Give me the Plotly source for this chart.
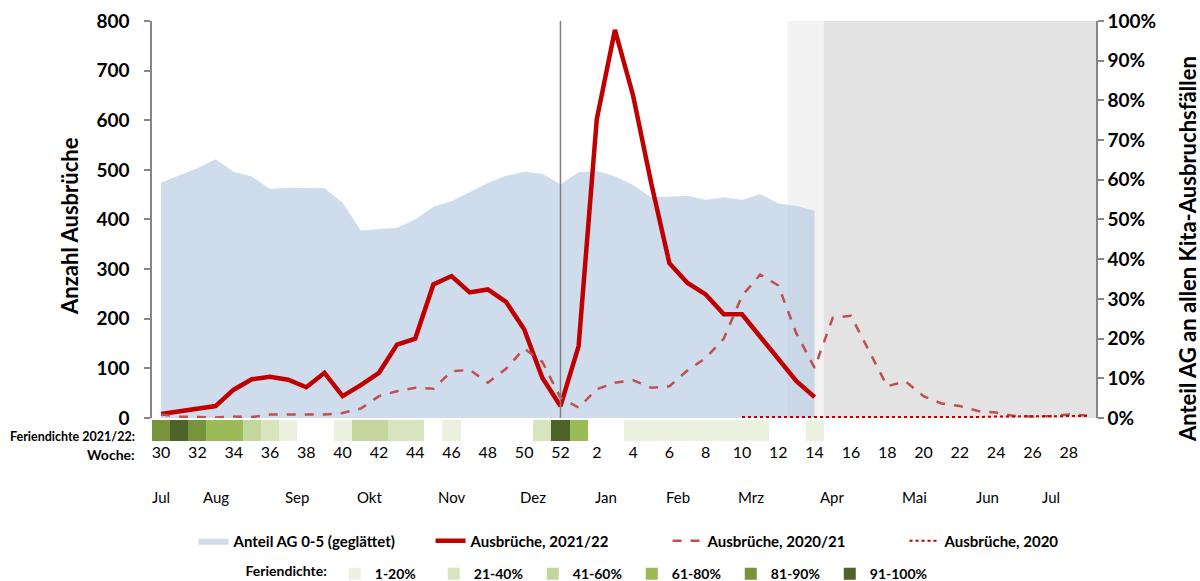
import plotly.graph_objects as go

# ---------------- data ----------------
weeks = list(range(30, 53)) + list(range(1, 30))          # KW 30/2021 .. KW 29/2022
tick_weeks = list(range(30, 53, 2)) + list(range(2, 30, 2))

# Anteil AG 0-5 (geglättet), %, KW 30 .. KW 14
share_ag05 = [59.3, 61.0, 62.9, 65.2, 62.0, 60.8, 57.7, 58.0, 58.0, 57.9, 54.2, 47.2,
              47.6, 47.9, 50.0, 53.2, 54.6, 57.0, 59.2, 61.0, 62.0, 61.5, 58.9,
              61.9, 62.2, 60.9, 58.7, 55.6, 55.7, 56.0, 54.9, 55.6, 54.9, 56.4, 54.0, 53.4, 52.2]

# Ausbrüche 2021/22, KW 30 .. KW 14
outbreaks_2122 = [8, 13, 19, 24, 57, 78, 83, 77, 62, 91, 44, 66, 91, 148, 160, 269, 286, 253,
                  259, 234, 179, 81, 24,
                  145, 602, 782, 650, 473, 312, 272, 249, 209, 209, 163, 118, 74, 42]

# Ausbrüche 2020/21, KW 30 .. KW 29
outbreaks_2021 = [7, 3, 2, 1, 3, 2, 7, 7, 7, 7, 10, 19, 44, 54, 61, 59, 94, 97, 71, 99, 140, 113, 41,
                  21, 58, 71, 76, 61, 64, 96, 121, 160, 246, 289, 267, 170, 101,
                  202, 206, 136, 64, 74, 44, 29, 24, 14, 11, 4, 3, 4, 7, 5]

# Ausbrüche 2020, KW 10 .. KW 29
weeks_2020 = list(range(10, 30))
outbreaks_2020 = [2, 2, 2, 2, 2, 2, 1, 1, 2, 1, 1, 1, 2, 2, 3, 3, 3, 3, 4, 4]

# Feriendichte class per week (0 = none, 1..6 = classes below), KW 30 .. KW 29
holiday_class = [5, 6, 5, 4, 4, 3, 2, 1, 0, 0, 1, 3, 3, 2, 2, 0, 1, 0, 0, 0, 0, 2, 6,
                 4, 0, 0, 1, 1, 1, 1, 1, 1, 1, 1, 0, 0, 1,
                 0, 0, 0, 0, 0, 0, 0, 0, 0, 0, 0, 0, 0, 0, 0]
holiday_labels = ["1-20%", "21-40%", "41-60%", "61-80%", "81-90%", "91-100%"]
holiday_colors = ["#ebf1de", "#d7e4bd", "#c3d69b", "#9bbb59", "#77933c", "#4f6228"]

months = ["Jul", "Aug", "Sep", "Okt", "Nov", "Dez", "Jan", "Feb", "Mrz", "Apr", "Mai", "Jun", "Jul"]
month_pos = [0, 3, 7.5, 11.5, 16, 20.5, 24.5, 28.5, 32.5, 37, 41.5, 45.5, 49]  # in week-slot units

year_break_week = 52
light_shade_weeks = (12.5, 14.5)   # KW range, lighter grey
dark_shade_from_week = 14.5        # darker grey to end

# ---------------- helpers ----------------
idx = list(range(len(weeks)))
def pos(w):
    base = int(w)
    frac = w - base
    return weeks.index(base) + frac

FONT = "Lato, Roboto, Liberation Sans, Arial, sans-serif"
RED = "#c00000"
RED2 = "#c0504d"

fig = go.Figure()

# shaded area (right axis = y)
fig.add_trace(go.Scatter(
    x=idx[:len(share_ag05)], y=[v / 100 for v in share_ag05],
    mode="lines", line=dict(width=0, color="rgba(175,196,224,0.6)"),
    fill="tozeroy", fillcolor="rgba(175,196,224,0.6)",
    name="Anteil AG 0-5 (geglättet)", yaxis="y", legend="legend"))

# lines on count axis (y2)
fig.add_trace(go.Scatter(
    x=idx[:len(outbreaks_2122)], y=outbreaks_2122, mode="lines",
    line=dict(color=RED, width=4.5), name="Ausbrüche, 2021/22", yaxis="y2", legend="legend"))
fig.add_trace(go.Scatter(
    x=idx, y=outbreaks_2021, mode="lines",
    line=dict(color=RED2, width=2.5, dash="dash"), name="Ausbrüche, 2020/21", yaxis="y2", legend="legend"))
fig.add_trace(go.Scatter(
    x=[weeks.index(w) for w in weeks_2020], y=outbreaks_2020, mode="lines",
    line=dict(color=RED, width=2, dash="dot"), name="Ausbrüche, 2020", yaxis="y2", legend="legend"))

# holiday density strip
for c, (lab, col) in enumerate(zip(holiday_labels, holiday_colors), start=1):
    xs = [i for i, h in zip(idx, holiday_class) if h == c]
    fig.add_trace(go.Bar(
        x=xs, y=[1] * len(xs), width=1, marker=dict(color=col, line=dict(width=0)),
        name=lab, yaxis="y3", legend="legend2", hoverinfo="skip"))

shapes = [
    dict(type="rect", xref="x", yref="y domain", x0=pos(light_shade_weeks[0]), x1=pos(light_shade_weeks[1]),
         y0=0, y1=1, fillcolor="#f2f2f2", line=dict(width=0), layer="below"),
    dict(type="rect", xref="x", yref="y domain", x0=pos(dark_shade_from_week), x1=len(weeks) - 0.5,
         y0=0, y1=1, fillcolor="#e3e3e3", line=dict(width=0), layer="below"),
    dict(type="line", xref="x", yref="y domain", x0=weeks.index(year_break_week), x1=weeks.index(year_break_week),
         y0=0, y1=1, line=dict(color="#808080", width=1.5), layer="above"),
]

title_font = dict(size=22, color="#000", family=FONT, weight="bold")
annotations = [dict(text=m, x=p, xref="x", y=-0.133, yref="paper", yanchor="middle", showarrow=False,
                    font=dict(size=15, color="#000", family=FONT)) for m, p in zip(months, month_pos)]
annotations += [
    dict(text="Feriendichte 2021/22:", x=-0.0159, xref="paper", xanchor="right", y=0.011, yref="paper",
         yanchor="middle", showarrow=False, font=dict(size=12.5, color="#000", family=FONT, weight="bold")),
    dict(text="Woche:", x=-0.0159, xref="paper", xanchor="right", y=-0.031, yref="paper",
         yanchor="middle", showarrow=False, font=dict(size=14, color="#000", family=FONT, weight="bold")),
    dict(text="Anzahl Ausbrüche", textangle=-90, x=-0.0869, xref="paper", xanchor="center",
         y=0.512, yref="paper", yanchor="middle", showarrow=False, font=title_font),
    dict(text="Anteil AG an allen Kita-Ausbruchsfällen", textangle=-90, x=1.0964, xref="paper",
         xanchor="center", y=0.457, yref="paper", yanchor="middle", showarrow=False, font=title_font),
]

axis_common = dict(showgrid=False, zeroline=False, showline=True, linecolor="#868686", linewidth=1.5,
                   ticks="outside", ticklen=6, tickcolor="#868686", tickwidth=1.5,
                   tickfont=dict(size=19, color="#000", family=FONT, weight="bold"))

fig.update_layout(
    width=1200, height=581,
    margin=dict(l=152, r=104, t=21, b=140, autoexpand=False),
    paper_bgcolor="white", plot_bgcolor="white",
    font=dict(family=FONT, color="#000"),
    barmode="overlay", bargap=0,
    showlegend=True,
    xaxis=dict(range=[-0.5, len(weeks) - 0.5], anchor="y3", showgrid=False, zeroline=False,
               showline=False, ticks="", tickvals=[weeks.index(w) for w in tick_weeks],
               ticktext=[str(w) for w in tick_weeks], tickfont=dict(size=16, color="#000", family=FONT)),
    yaxis=dict(domain=[0.0548, 1], range=[0, 1], dtick=0.1, tickformat=".0%", side="right", anchor="x",
               **axis_common),
    yaxis2=dict(overlaying="y", range=[0, 800], dtick=100, side="left", anchor="x",
                ticklabelstandoff=11, **axis_common),
    yaxis3=dict(domain=[0, 0.05], range=[0, 1], visible=False, anchor="x"),
    legend=dict(orientation="h", x=0.044, xanchor="left", y=-0.238, yanchor="middle",
                font=dict(size=15, color="#000", family=FONT, weight="bold"),
                bgcolor="rgba(0,0,0,0)", entrywidth=192, entrywidthmode="pixels"),
    legend2=dict(orientation="h", x=0.097, xanchor="left", y=-0.317, yanchor="middle",
                 title=dict(text="Feriendichte:", font=dict(size=14, color="#000", family=FONT, weight="bold")),
                 font=dict(size=14, color="#000", family=FONT, weight="bold"),
                 bgcolor="rgba(0,0,0,0)", itemwidth=30, entrywidth=54, entrywidthmode="pixels"),
    shapes=shapes,
    annotations=annotations,
)

fig.write_html("out.html", config={"displayModeBar": False},
               post_script="document.body.style.margin='0';document.body.style.overflow='hidden';")
